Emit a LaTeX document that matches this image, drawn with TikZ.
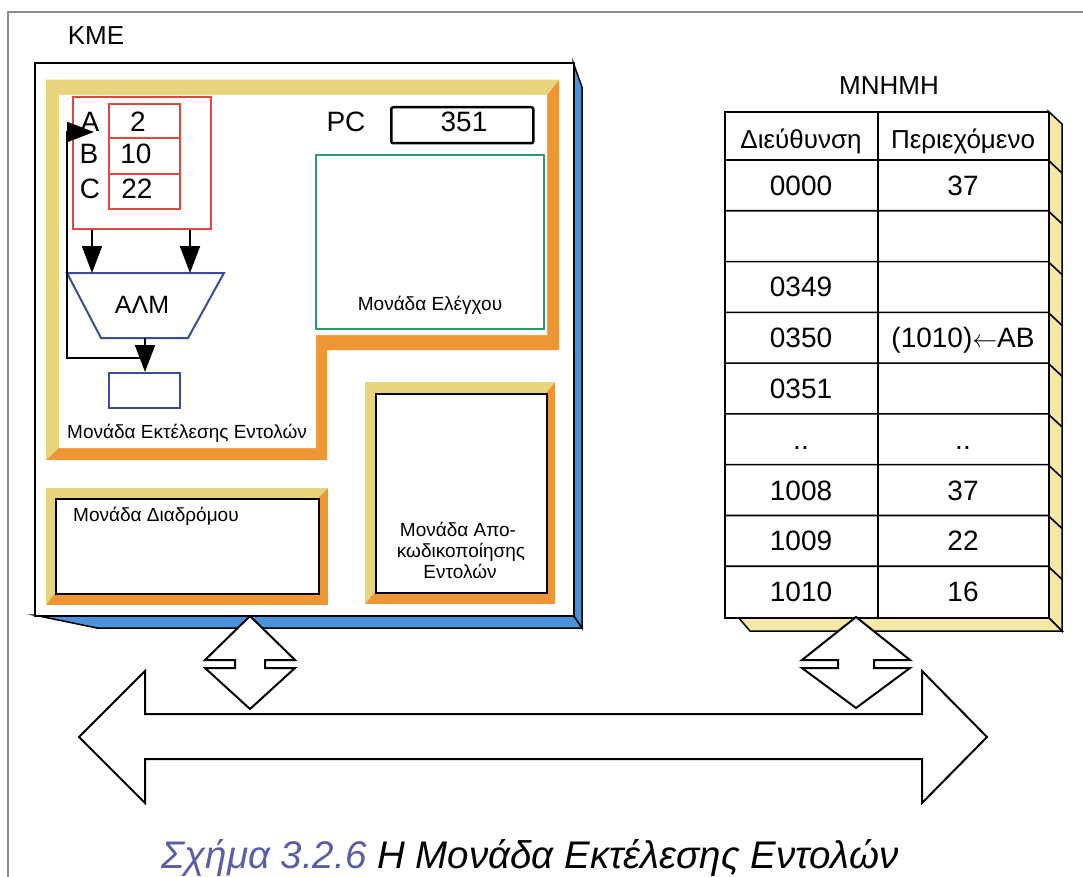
\documentclass[tikz,border=0pt]{standalone}
\usepackage{fontspec}
\setmainfont{Liberation Sans}
\usetikzlibrary{arrows.meta}

\definecolor{cpublue}{HTML}{4A93DA}
\definecolor{frameyellow}{HTML}{E8D47C}
\definecolor{frameorange}{HTML}{EE9633}
\definecolor{regred}{HTML}{E5453F}
\definecolor{alublue}{HTML}{3A4C9E}
\definecolor{ctrlgreen}{HTML}{2F9774}
\definecolor{memyellow}{HTML}{F6E8A6}
\definecolor{captionblue}{HTML}{5A5EA8}

\begin{document}
\begin{tikzpicture}[x=1pt,y=-1pt,
  fs/.style={font=\fontsize{#1}{#1}\selectfont},
  lbl/.style={inner sep=0pt, anchor=base},
  box/.style={draw, inner sep=0pt, anchor=north west, line width=2pt},
  bigtip/.style={-{Triangle[length=27pt,width=20pt]}, line width=2pt},
  strip/.style={draw=black, line width=1.5pt, line join=miter},
  port/.style={draw=black, fill=white, line width=2pt, line join=miter},
]
\useasboundingbox (0,0) rectangle (1083,877);
\fill[white] (0,0) rectangle (1083,877);
\draw[black!45, line width=1.5pt] (8,900) -- (8,12) -- (1100,12);

% ---------- CPU ----------
\node[fs=26, lbl] (kme) at (96,45) {KME};
\filldraw[strip, fill=cpublue] (573,62) -- (582,87) -- (582,628) -- (573,615) -- cycle;
\filldraw[strip, fill=cpublue] (34,615) -- (573,615) -- (582,628) -- (97,628) -- cycle;
\node[box, fill=white, minimum width=539pt, minimum height=553pt] (cpu) at (34,62) {};

% execution unit frame (L-shaped)
\fill[frameorange] (46,80) -- (559,80) -- (559,350) -- (327,350) -- (327,460) -- (46,460) -- cycle;
\fill[frameyellow] (46,460) -- (46,80) -- (559,80) -- (547,95) -- (59,95) -- (59,448) -- cycle;
\fill[white] (59,95) -- (547,95) -- (547,335) -- (316,335) -- (316,448) -- (59,448) -- cycle;

% registers
\node[box, draw=regred, line width=1.8pt, minimum width=138pt, minimum height=132pt] (regs) at (72,96) {};
\node[box, draw=regred, line width=1.8pt, minimum width=71pt, minimum height=34pt] (ra) at (108,103) {};
\node[box, draw=regred, line width=1.8pt, minimum width=71pt, minimum height=36pt] (rb) at (108,137) {};
\node[box, draw=regred, line width=1.8pt, minimum width=71pt, minimum height=35pt] (rc) at (108,173) {};
\node[fs=28, lbl] (la) at (90,132) {A};
\node[fs=28, lbl] (lb) at (89,164) {B};
\node[fs=28, lbl] (lc) at (90,199) {C};
\node[fs=28, lbl] (va) at (138,132) {2};
\node[fs=28, lbl] (vb) at (136,164) {10};
\node[fs=28, lbl] (vc) at (137,199) {22};

% ALU
\draw[alublue, line width=2pt, line join=miter] (67,273) -- (224,273) -- (188,338) -- (101,338) -- cycle;
\node[fs=25, lbl] (alu) at (142,313) {ΑΛΜ};
\coordinate (aluinL) at (92,273);
\coordinate (aluinR) at (190,273);
\coordinate (aluout) at (145,338);
\node[box, draw=alublue, minimum width=71pt, minimum height=35pt] (acc) at (108,372) {};

\draw[bigtip] (regs.south -| aluinL) -- (aluinL);
\draw[bigtip] (regs.south -| aluinR) -- (aluinR);
\draw[bigtip] (aluout) -- (acc.north -| aluout);
\coordinate (fbturn) at (67,358);
\coordinate (fbtip) at (94,132);
\draw[bigtip] (aluout |- fbturn) -- (fbturn) -- (fbturn |- fbtip) -- (fbtip);

\node[fs=19, lbl, anchor=base west] (exetxt) at (67,438) {Μονάδα Εκτέλεσης Εντολών};

% program counter
\node[fs=28, lbl] (pclabel) at (346,132) {PC};
\node[box, line width=2.5pt, rounded corners=2pt, minimum width=142pt, minimum height=36pt] (pc) at (390,106) {};
\node[fs=28, lbl] (pcval) at (464,132) {351};

% control unit
\node[box, draw=ctrlgreen, minimum width=228pt, minimum height=174pt] (ctrl) at (315,154) {};
\node[fs=19, lbl] (ctrltxt) at (430,310) {Μονάδα Ελέγχου};

% routing unit
\fill[frameorange] (46,488) rectangle (328,605);
\fill[frameyellow] (46,605) -- (46,488) -- (328,488) -- (318,498) -- (55,498) -- (55,593) -- cycle;
\node[box, fill=white, minimum width=263pt, minimum height=95pt] (route) at (55,498) {};
\node[fs=19, lbl, anchor=base west] (routetxt) at (73,521) {Μονάδα Διαδρόμου};

% decoding unit
\fill[frameorange] (365,382) rectangle (555,604);
\fill[frameyellow] (365,604) -- (365,382) -- (555,382) -- (546,393) -- (375,393) -- (375,592) -- cycle;
\node[box, fill=white, minimum width=171pt, minimum height=199pt] (decode) at (375,393) {};
\node[fs=19, lbl] (dec1) at (458,536) {Μονάδα Απο-};
\node[fs=19, lbl] (dec2) at (461,557) {κωδικοποίησης};
\node[fs=19, lbl] (dec3) at (460,578) {Εντολών};

% ---------- memory ----------
\node[fs=26, lbl] (mnhmh) at (889,95) {ΜΝΗΜΗ};
\filldraw[strip, fill=memyellow] (1048,111) -- (1062,124) -- (1062,631) -- (1048,617) -- cycle;
\filldraw[strip, fill=memyellow] (738,617) -- (1048,617) -- (1062,631) -- (750,631) -- cycle;
\node[box, line width=1.6pt, fill=white, minimum width=324pt, minimum height=506pt] (mem) at (724,111) {};
\draw[line width=1.6pt] (878,111) -- (878,617);
\draw[line width=1.6pt] (724,160) -- (1048,160);
\draw[line width=1.6pt] (1048,160) -- (1062,173);
\foreach \k in {1,...,8} {
  \draw[line width=1.6pt] (724,160+\k*50.78) -- (1048,160+\k*50.78) -- (1062,173+\k*50.78);
}
\node[fs=26, lbl] (hdaddr) at (801,149) {Διεύθυνση};
\node[fs=26, lbl] (hdcont) at (963,149) {Περιεχόμενο};
\foreach \a/\c [count=\i] in {0000/37, {}/{}, 0349/{}, 0350/{(1010)$\leftarrow$AB}, 0351/{}, ../.., 1008/37, 1009/22, 1010/16} {
  \node[fs=28, lbl] (addr\i) at (801,160+\i*50.78-25.39+10) {\a};
  \node[fs=28, lbl] (cont\i) at (963,160+\i*50.78-25.39+10) {\c};
}

% ---------- bus and ports ----------
\draw[port] (79,737) -- (145,671) -- (145,714) -- (922,714) -- (922,671) -- (987,737)
  -- (922,803) -- (922,759) -- (145,759) -- (145,803) -- cycle;
\coordinate (cpuport) at (250,616);
\draw[port] (cpuport) -- (205,660) -- (235,660) -- (235,668) -- (205,668) -- (250,709)
  -- (295,668) -- (265,668) -- (265,660) -- (295,660) -- cycle;
\coordinate (memport) at (856,617);
\draw[port] (memport) -- (802,660) -- (838,660) -- (838,668) -- (802,668) -- (856,708)
  -- (910,668) -- (874,668) -- (874,660) -- (910,660) -- cycle;

% ---------- caption ----------
\node[fs=38.5, lbl] (caption) at (530,868) {\itshape\textcolor{captionblue}{Σχήμα 3.2.6} Η Μονάδα Εκτέλεσης Εντολών};
\end{tikzpicture}
\end{document}
